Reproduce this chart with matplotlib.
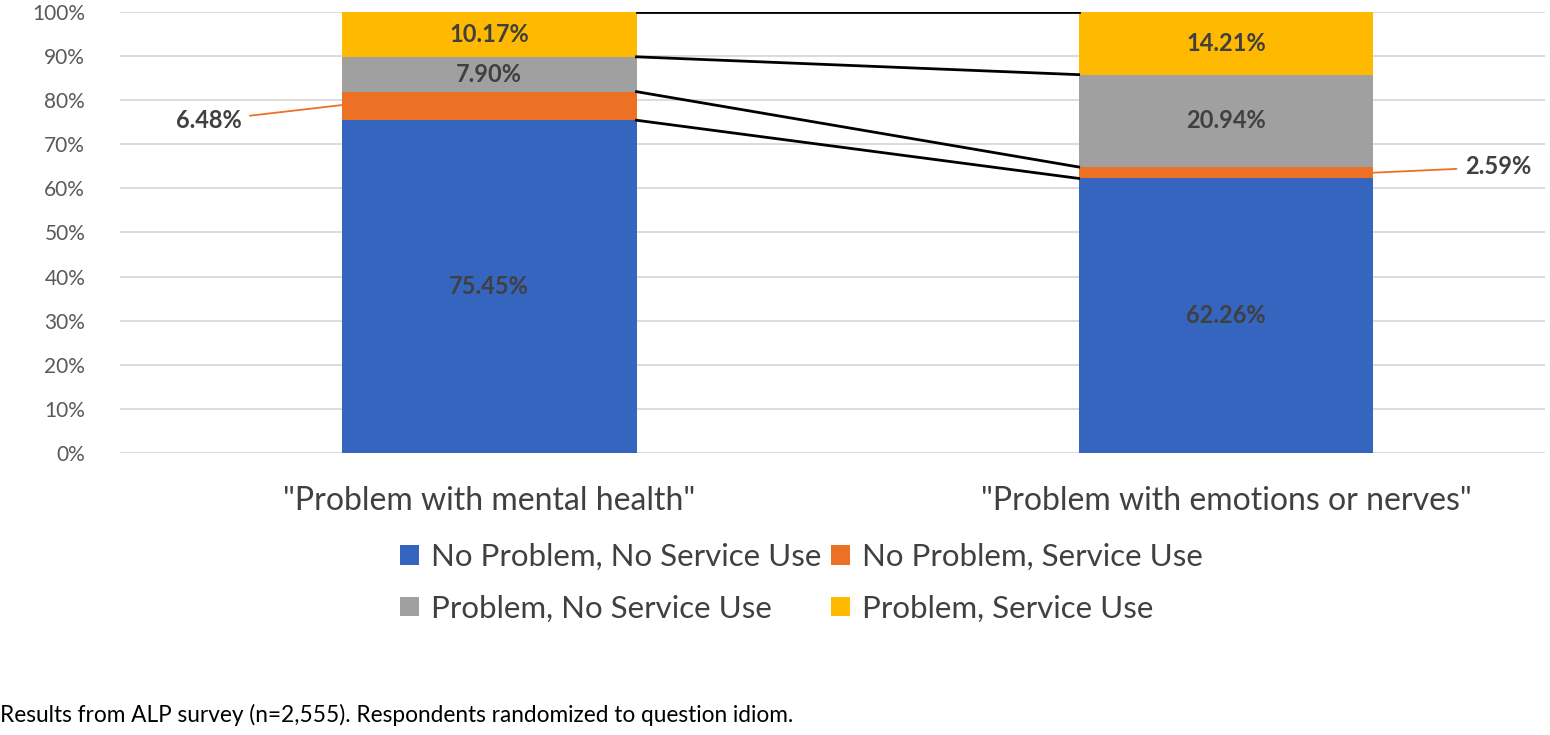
import matplotlib.pyplot as plt
from matplotlib.patches import Patch

plt.rcParams['font.family'] = ['Lato', 'DejaVu Sans']

categories = ['"Problem with mental health"', '"Problem with emotions or nerves"']
series = ['No Problem, No Service Use', 'No Problem, Service Use',
          'Problem, No Service Use', 'Problem, Service Use']
no_prob_no_serv = [75.45, 62.26]
no_prob_serv = [6.48, 2.59]
prob_no_serv = [7.90, 20.94]
prob_serv = [10.17, 14.21]
colors = ['#3565BF', '#ED7125', '#A0A0A0', '#FFB900']
yticks = [0, 10, 20, 30, 40, 50, 60, 70, 80, 90, 100]
caption = 'Results from ALP survey (n=2,555). Respondents randomized to question idiom.'

fig = plt.figure(figsize=(15.5, 7.35), dpi=100)
ax = fig.add_axes([0.0774, 0.3837, 0.9194, 0.6])

x = [0, 1]
w = 0.40
values = [no_prob_no_serv, no_prob_serv, prob_no_serv, prob_serv]
bottoms = [0, 0]
tops = []
for vals, col in zip(values, colors):
    ax.bar(x, vals, width=w, bottom=bottoms, color=col, zorder=2)
    bottoms = [b + v for b, v in zip(bottoms, vals)]
    tops.append(list(bottoms))

# series lines between the bars
for t in tops:
    ax.plot([x[0] + w / 2, x[1] - w / 2], t, color='black', lw=2, zorder=3)

# data labels
lab_col = '#404040'
for i in range(2):
    base = 0
    for j, vals in enumerate(values):
        v = vals[i]
        mid = base + v / 2
        base += v
        if j == 1:
            continue
        ax.text(x[i], mid, f'{v:.2f}%', ha='center', va='center', fontsize=17,
                fontweight='bold', color=lab_col, zorder=4)

# outside labels with leader lines for the small orange segments
m0 = no_prob_no_serv[0] + no_prob_serv[0] / 2
ax.annotate(f'{no_prob_serv[0]:.2f}%', xy=(x[0] - w / 2, m0 + 0.2), xytext=(-0.336, 75.4),
            ha='right', va='center', fontsize=17, fontweight='bold', color=lab_col,
            arrowprops=dict(arrowstyle='-', color='#ED7125', lw=1.3, shrinkA=4, shrinkB=0))
m1 = no_prob_no_serv[1] + no_prob_serv[1] / 2
ax.annotate(f'{no_prob_serv[1]:.2f}%', xy=(x[1] + w / 2, m1), xytext=(1.324, 64.85),
            ha='left', va='center', fontsize=17, fontweight='bold', color=lab_col,
            arrowprops=dict(arrowstyle='-', color='#ED7125', lw=1.3, shrinkA=4, shrinkB=0))

ax.set_xlim(-0.501, 1.433)
ax.set_ylim(0, 100)
ax.set_yticks(yticks)
ax.set_yticklabels([f'{t}%' for t in yticks], fontsize=15, color='#595959')
ax.set_xticks(x)
ax.set_xticklabels(categories, fontsize=23, color='#404040')
ax.tick_params(axis='both', length=0)
ax.tick_params(axis='x', pad=24)
ax.tick_params(axis='y', pad=25)
ax.grid(axis='y', color='#D9D9D9', lw=1.3, zorder=0)
for s in ax.spines.values():
    s.set_visible(False)

order = [0, 2, 1, 3]
handles = [Patch(facecolor=colors[k], label=series[k]) for k in order]
fig.legend(handles=handles, loc='center', bbox_to_anchor=(0.517, 0.207), ncol=2,
           frameon=False, fontsize=22.5, labelcolor='#404040', handlelength=0.6,
           handleheight=0.6, handletextpad=0.4, columnspacing=0.3, labelspacing=0.75)

fig.text(0.0, 0.027, caption, fontsize=16.3, color='black', ha='left', va='center')

fig.savefig('out.png', dpi=100)
